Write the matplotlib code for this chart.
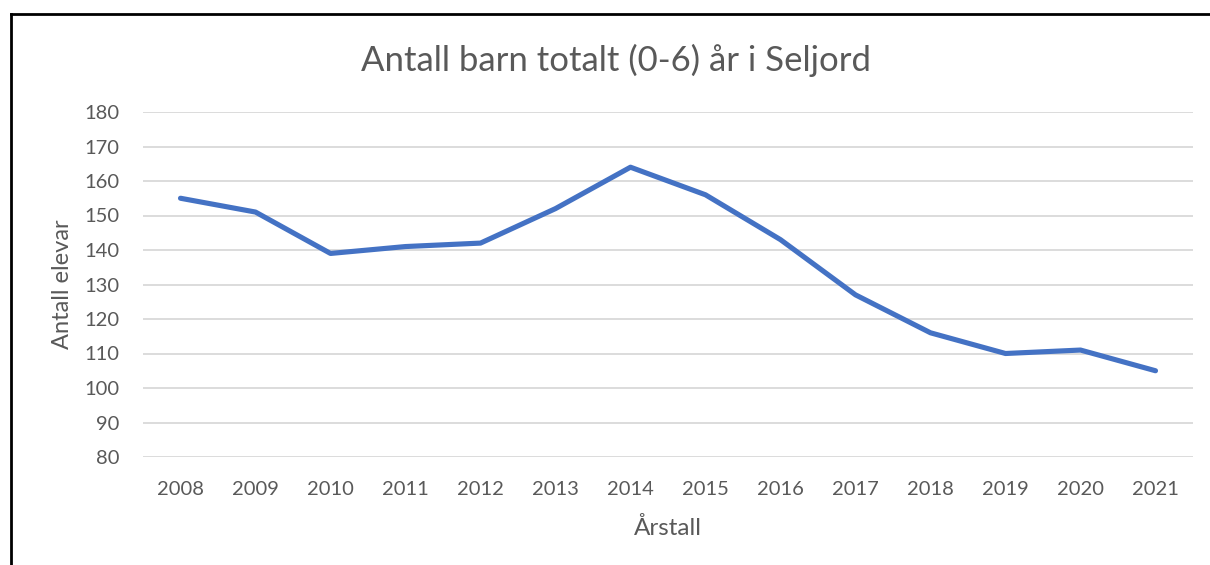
import matplotlib
matplotlib.use('Agg')
import matplotlib.pyplot as plt
from matplotlib.lines import Line2D

# data
years = ['2008', '2009', '2010', '2011', '2012', '2013', '2014',
         '2015', '2016', '2017', '2018', '2019', '2020', '2021']
barn = [155, 151, 139, 141, 142, 152, 164, 156, 143, 127, 116, 110, 111, 105]

plt.rcParams['font.family'] = ['Lato', 'DejaVu Sans']
grey = '#595959'

fig = plt.figure(figsize=(12.1, 5.65), dpi=100)
ax = fig.add_axes([143 / 1210, 1 - 457 / 565, 1050 / 1210, 345 / 565])

x = list(range(len(years)))
ax.plot(x, barn, color='#4472C4', linewidth=3.7, solid_capstyle='round',
        solid_joinstyle='round', zorder=3)

ax.set_xlim(-0.5, len(years) - 0.5)
ax.set_ylim(80, 180)
ax.set_yticks(range(80, 181, 10))
ax.set_xticks(x)
ax.set_xticklabels(years)

ax.grid(axis='y', color='#D9D9D9', linewidth=1.3)
ax.set_axisbelow(True)
for s in ax.spines.values():
    s.set_visible(False)
ax.tick_params(axis='both', length=0, labelsize=14.5, labelcolor=grey)
ax.tick_params(axis='y', pad=17)
ax.tick_params(axis='x', pad=17)

ax.set_ylabel('Antall elevar', fontsize=17, color=grey, labelpad=8)
ax.set_xlabel('Årstall', fontsize=17.5, color=grey, labelpad=14)
fig.text(616 / 1210, 1 - 60 / 565, 'Antall barn totalt (0-6) år i Seljord',
         ha='center', va='center', fontsize=25, color=grey)

# frame of the embedded chart (only left and top edges visible)
fig.add_artist(Line2D([10.5 / 1210, 10.5 / 1210], [0, 1 - 14 / 565],
                      transform=fig.transFigure, color='black', linewidth=2))
fig.add_artist(Line2D([10.5 / 1210, 1], [1 - 14 / 565, 1 - 14 / 565],
                      transform=fig.transFigure, color='black', linewidth=2))

plt.savefig('out.png', dpi=100)
